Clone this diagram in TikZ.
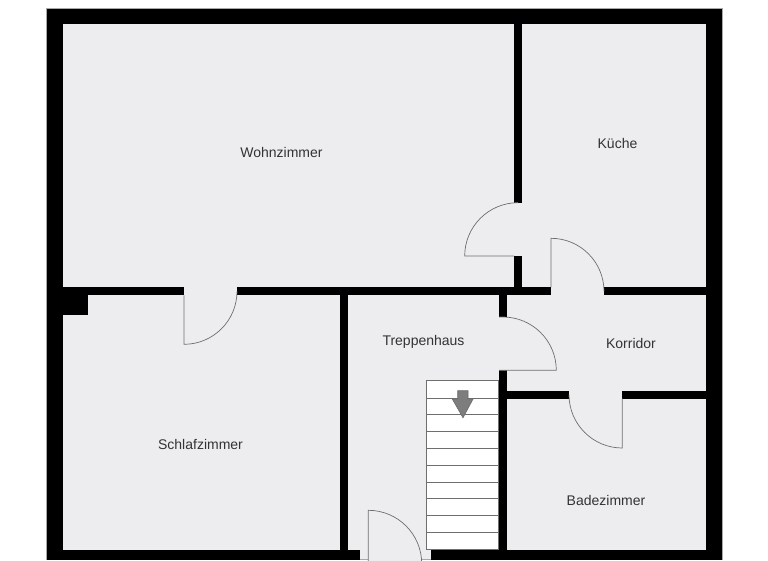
\documentclass[tikz,border=0pt]{standalone}
\usepackage{fontspec}
\setmainfont{Liberation Sans}
\definecolor{floorgrey}{HTML}{EDEDF0}
\definecolor{doorgrey}{HTML}{6E6E6E}
\definecolor{labelgrey}{HTML}{333333}
\tikzset{
	wall/.style={fill=black},
	door/.style={draw=doorgrey, line width=0.7pt, fill=floorgrey},
	steps/.style={draw=doorgrey, line width=0.7pt},
	sill/.style={draw=doorgrey!60, line width=0.7pt},
	room/.style={text=labelgrey, anchor=base, font=\fontsize{14pt}{16pt}\selectfont}
}
\begin{document}
\begin{tikzpicture}[x=1pt, y=-1pt]
\useasboundingbox (0,0) rectangle (768,560);
% Floor
\fill[floorgrey] (46,8) rectangle (722,560);
% Outer walls
\fill[wall] (46,8) rectangle (722,24);
\fill[wall] (46,8) rectangle (62.5,560);
\fill[wall] (706,8) rectangle (722,560);
\fill[wall] (46,549.5) rectangle (360,560);
\fill[wall] (430.5,549.5) rectangle (722,560);
\draw[sill, line width=0.4pt] (46,560) -- (46,8) -- (722,8) -- (722,560);
% Inner walls
\fill[wall] (62,287.3) rectangle (184,295.3);
\fill[wall] (237,287.3) rectangle (551,295.3);
\fill[wall] (604,287.3) rectangle (706,295.3);
\fill[wall] (62,295) rectangle (88.3,315);
\fill[wall] (514,24) rectangle (521.7,202.7);
\fill[wall] (514,256) rectangle (521.7,288);
\fill[wall] (340,295) rectangle (347.7,550);
\fill[wall] (499.2,295) rectangle (507,317);
\fill[wall] (499.2,370.3) rectangle (507,550);
\fill[wall] (507,390.7) rectangle (569,398.7);
\fill[wall] (622.3,390.7) rectangle (706,398.7);
% Doors
\draw[door] (518,202.7) arc (-90:-180:53.3) -- (514,256);
\draw[door] (551,287.3) -- (551,238.3) arc (-90:0:53);
\draw[door] (184,295.3) -- (184,344.3) arc (90:0:53);
\draw[door] (499.2,317) -- (503,317) arc (-90:0:53.3) -- (499.2,370.3);
\draw[door] (622.3,398.7) -- (622.3,448) arc (90:180:53.3);
% Stairs
\draw[steps, fill=white] (426.3,380.3) rectangle (498.7,549.5);
\foreach \y in {398,414.7,431.7,448.3,465.3,482,498.7,515.7,532.3}
	\draw[steps] (426.3,\y) -- (498.7,\y);
\draw[door, fill=doorgrey!90] (457.7,390.7) -- (468,390.7) -- (468,399) -- (473,399)
	-- (463,417.7) -- (452.3,399) -- (457.7,399) -- cycle;
% Entrance door
\draw[sill] (360,559.5) -- (368.3,559.5);
\draw[sill] (421.7,559.5) -- (430.5,559.5);
\draw[door] (368.3,563.7) -- (368.3,510.3) arc (-90:0:53.4);
% Labels
\node[room] (wohnzimmer) at (281.5,157) {Wohnzimmer};
\node[room] (kueche) at (617.5,148) {Küche};
\node[room] (schlafzimmer) at (200.5,449) {Schlafzimmer};
\node[room] (treppenhaus) at (423.5,345) {Treppenhaus};
\node[room] (korridor) at (631,348) {Korridor};
\node[room] (badezimmer) at (606,505) {Badezimmer};
\end{tikzpicture}
\end{document}
